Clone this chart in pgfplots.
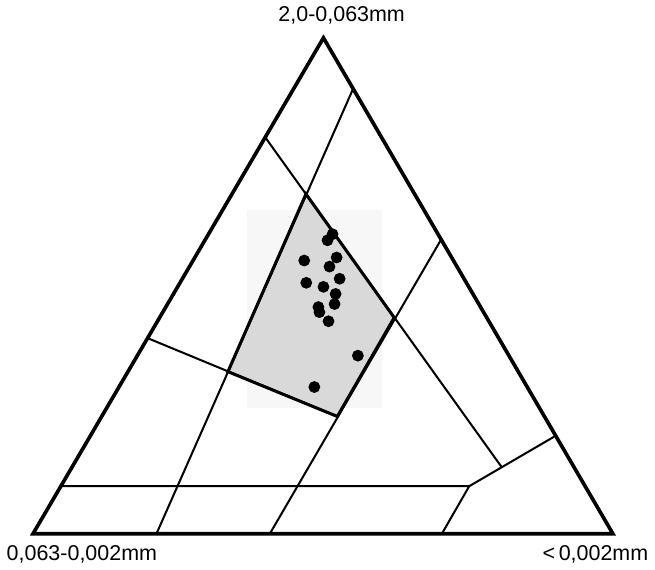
\documentclass[border=0pt]{standalone}
\usepackage{pgfplots}
\pgfplotsset{compat=1.18}
\usepackage{fontspec}
\setmainfont{Liberation Sans}
\begin{document}
\begin{tikzpicture}
\begin{axis}[
  scale only axis, width=327.5pt, height=278.5pt,
  xmin=0, xmax=655, ymin=0, ymax=557, y dir=reverse,
  hide axis, clip=false,
]
% faint scanned background
\addplot[fill=gray!6, draw=none] coordinates {(248,207) (382,207) (382,403) (248,403)} --cycle;
% shaded field
\addplot[fill=gray!30, draw=none] coordinates {(306.7,191.3) (393.9,313.4) (337.7,411.1) (229.6,366.8)} --cycle;
% inner class lines
\addplot[black, line width=1pt] coordinates {(267,136) (500,461)};
\addplot[black, line width=1pt] coordinates {(353,88) (159,527)};
\addplot[black, line width=1pt] coordinates {(441,235) (271,527)};
\addplot[black, line width=1pt] coordinates {(151,334) (337.7,411.1)};
\addplot[black, line width=1pt] coordinates {(64.5,480) (468,480) (441,527)};
\addplot[black, line width=1pt] coordinates {(468,480) (552,431)};
% shaded field border
\addplot[black, line width=1.5pt] coordinates {(306.7,191.3) (393.9,313.4) (337.7,411.1) (229.6,366.8)} --cycle;
% outer triangle
\addplot[black, line width=1.8pt, line join=miter] coordinates {(324,37) (610,527) (37,527)} --cycle;
% samples
\addplot[only marks, mark=*, mark size=2.7pt, black] coordinates {
(328,237) (333,231) (305,257) (337,254) (330,263) (340,275) (307,279)
(324,283) (336,290) (335,300) (319,303) (320,308) (329,317) (358,351) (315,382)};
\node[font=\fontsize{10.6}{13}\selectfont] at (axis cs:342,15) {2,0-0,063mm};
\node[font=\fontsize{10.6}{13}\selectfont, anchor=west] at (axis cs:4,547) {0,063-0,002mm};
\node[font=\fontsize{10.6}{13}\selectfont, anchor=east] at (axis cs:652,547) {<\,0,002mm};
\end{axis}
\end{tikzpicture}
\end{document}
